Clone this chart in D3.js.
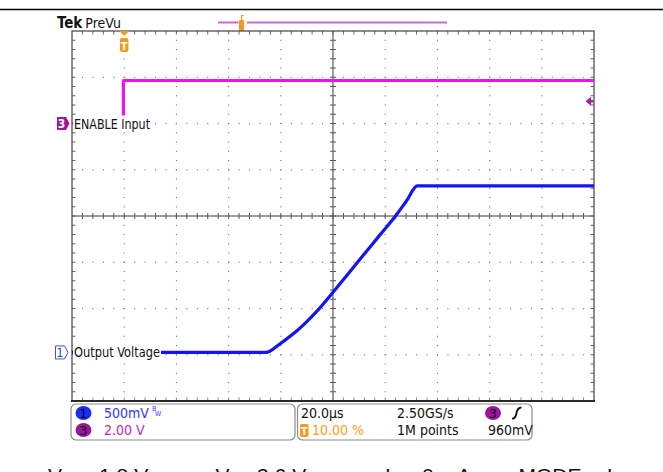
<!DOCTYPE html>
<html><head><meta charset="utf-8">
<script src="https://cdn.jsdelivr.net/npm/d3@7"></script>
<style>
html,body{margin:0;padding:0;background:#fff;}
svg{display:block;}
</style></head><body>
<svg id="c" width="663" height="472"></svg>
<script>
// ---------- data ----------
const timeDomain = [-20, 180];            // µs, 20.0 µs/div, trigger at 10 %
const ch1Time  = [-20, 54.3, 59.3, 64.3, 69.3, 74.3, 80.1, 86.0, 92.0, 98.0, 104.1, 108.2, 112.3, 180];
const ch1Volts = [0, 0, 0.085, 0.19, 0.315, 0.46, 0.653, 0.857, 1.064, 1.271, 1.481, 1.64, 1.80, 1.80];
const ch3Time  = [-20, -0.3, -0.3, 180];
const ch3Volts = [0, 0, 1.86, 1.86];
const ch1Scale = 0.5, ch1Offset = -2.95;  // V/div, divisions
const ch3Scale = 2.0, ch3Offset = 2.0;
const triggerTime = 0, triggerLevel = 0.96;
const ch1Label = "Output Voltage", ch3Label = "ENABLE Input";
const infoRow1 = ["500mV", "20.0µs", "2.50GS/s"];
const infoRow2 = ["2.00 V", "10.00 %", "1M points", "960mV"];
const captionSymbols = [["V","OUT"],["V","IN"],["I","O"],["MODE",""]];
const captionValues = ["= 1.8 V,", "= 3.6 V,", "= 0 mA,", "= Low"];

// ---------- setup ----------
const tekFont = "'Liberation Sans Narrow','Arial Narrow','DejaVu Sans Condensed',sans-serif";
const svg = d3.select('#c');
const W = 663;
const P = {l:72, r:594, t:31, b:401};
const x = d3.scaleLinear().domain(timeDomain).range([P.l, P.r]);
const y = d3.scaleLinear().domain([-4, 4]).range([P.b, P.t]);
const y1 = v => y(v / ch1Scale + ch1Offset);
const y3 = v => y(v / ch3Scale + ch3Offset);

svg.append('rect').attr('width', 663).attr('height', 472).attr('fill', '#fff');

// top rule
svg.append('line').attr('x1', 0).attr('x2', W).attr('y1', 9.5).attr('y2', 9.5)
  .attr('stroke', '#000').attr('stroke-width', 1.6);

// header
const hdr = svg.append('text').attr('x', 57).attr('y', 27.5).attr('font-family', tekFont).attr('fill', '#111');
hdr.append('tspan').attr('font-weight', 'bold').attr('font-size', 15).text('Tek');
hdr.append('tspan').attr('dx', 3).attr('font-size', 14).text('PreVu');

// record view bar
svg.append('line').attr('x1', 218).attr('x2', 447).attr('y1', 22.5).attr('y2', 22.5)
  .attr('stroke', '#c76fd6').attr('stroke-width', 2);
svg.append('rect').attr('x', 236).attr('y', 14).attr('width', 11).attr('height', 17).attr('fill', '#fff');
svg.append('line').attr('x1', 241.5).attr('x2', 241.5).attr('y1', 15).attr('y2', 21).attr('stroke', '#f39a1e').attr('stroke-width', 1.2);
svg.append('line').attr('x1', 241.5).attr('x2', 244).attr('y1', 15.5).attr('y2', 15.5).attr('stroke', '#f39a1e').attr('stroke-width', 1);
svg.append('rect').attr('x', 239).attr('y', 20).attr('width', 5).attr('height', 11).attr('rx', 1).attr('fill', '#f39a1e');
svg.append('line').attr('x1', 235).attr('x2', 238.5).attr('y1', 22.5).attr('y2', 22.5).attr('stroke', '#c76fd6').attr('stroke-width', 2);

// ---------- graticule ----------
const g = svg.append('g');
const minorT = d3.range(0, 51).map(k => timeDomain[0] + k * 4);
const minorD = d3.range(0, 41).map(m => -4 + m * 0.2);
const majorT = d3.range(0, 11).map(k => timeDomain[0] + k * 20);
const majorD = d3.range(-4, 5);

// dotted lines
majorT.filter(t => t !== timeDomain[0] && t !== timeDomain[1] && t !== 80).forEach(t => {
  g.selectAll(null).data(minorD.slice(1, -1)).enter().append('rect')
    .attr('x', x(t) - 0.5).attr('y', d => y(d) - 0.5).attr('width', 1.1).attr('height', 1.1).attr('fill', '#707070');
});
majorD.filter(d => d !== -4 && d !== 4 && d !== 0).forEach(d => {
  g.selectAll(null).data(minorT.slice(1, -1)).enter().append('rect')
    .attr('x', t => x(t) - 0.5).attr('y', y(d) - 0.5).attr('width', 1.1).attr('height', 1.1).attr('fill', '#707070');
});

// center lines
g.append('line').attr('x1', x(80)).attr('x2', x(80)).attr('y1', P.t).attr('y2', P.b).attr('stroke', '#3a3a3a').attr('stroke-width', 1);
g.append('line').attr('x1', P.l).attr('x2', P.r).attr('y1', y(0)).attr('y2', y(0)).attr('stroke', '#3a3a3a').attr('stroke-width', 1);
g.selectAll(null).data(minorT.slice(1, -1)).enter().append('line')
  .attr('x1', t => x(t)).attr('x2', t => x(t)).attr('y1', y(0) - 3).attr('y2', y(0) + 3).attr('stroke', '#555');
g.selectAll(null).data(minorD.slice(1, -1)).enter().append('line')
  .attr('y1', d => y(d)).attr('y2', d => y(d)).attr('x1', x(80) - 3).attr('x2', x(80) + 3).attr('stroke', '#555');

// border ticks
g.selectAll(null).data(minorT.slice(1, -1)).enter().append('line')
  .attr('x1', t => x(t)).attr('x2', t => x(t)).attr('y1', P.t).attr('y2', P.t + 3.5).attr('stroke', '#666');
g.selectAll(null).data(minorT.slice(1, -1)).enter().append('line')
  .attr('x1', t => x(t)).attr('x2', t => x(t)).attr('y1', P.b).attr('y2', P.b - 3.5).attr('stroke', '#888');
g.selectAll(null).data(minorD.slice(1, -1)).enter().append('line')
  .attr('y1', d => y(d)).attr('y2', d => y(d)).attr('x1', P.l).attr('x2', P.l + 3.5).attr('stroke', '#666');
g.selectAll(null).data(minorD.slice(1, -1)).enter().append('line')
  .attr('y1', d => y(d)).attr('y2', d => y(d)).attr('x1', P.r).attr('x2', P.r - 3.5).attr('stroke', '#666');

// border
g.append('rect').attr('x', P.l).attr('y', P.t).attr('width', P.r - P.l).attr('height', P.b - P.t)
  .attr('fill', 'none').attr('stroke', '#505050').attr('stroke-width', 1.3);
g.append('line').attr('x1', P.l - 1).attr('x2', P.r + 1).attr('y1', P.b).attr('y2', P.b).attr('stroke', '#2a2a2a').attr('stroke-width', 2);

// ---------- traces ----------
const ch1 = ch1Time.map((t, i) => ({t, v: ch1Volts[i]}));
const ch3 = ch3Time.map((t, i) => ({t, v: ch3Volts[i]}));
svg.append('path').datum(ch3)
  .attr('d', d3.line().x(d => x(d.t)).y(d => y3(d.v)))
  .attr('fill', 'none').attr('stroke', '#f010f0').attr('stroke-width', 3.2).attr('stroke-linejoin', 'round');
svg.append('path').datum(ch1)
  .attr('d', d3.line().x(d => x(d.t)).y(d => y1(d.v)).curve(d3.curveMonotoneX))
  .attr('fill', 'none').attr('stroke', '#1414f0').attr('stroke-width', 3.2).attr('stroke-linejoin', 'round');

// ---------- channel labels & ground markers ----------
function chanLabel(yy, text, w) {
  svg.append('rect').attr('x', 73).attr('y', yy - 8).attr('width', w + 2).attr('height', 16).attr('fill', '#fff');
  svg.append('text').attr('x', 74).attr('y', yy + 5).attr('font-family', tekFont).attr('font-size', 14.5)
    .attr('fill', '#111').attr('textLength', w).attr('lengthAdjust', 'spacingAndGlyphs').text(text);
}
chanLabel(y3(0), ch3Label, 76);
chanLabel(y1(0), ch1Label, 86);

// ch3 marker
const m3 = y3(0);
svg.append('path').attr('d', `M57,${m3-6.5} h9 l3.5,6.5 l-3.5,6.5 h-9 z`).attr('fill', '#9b189b');
svg.append('text').attr('x', 61.5).attr('y', m3 + 4.5).attr('text-anchor', 'middle').attr('font-family', tekFont)
  .attr('font-size', 12).attr('font-weight', 'bold').attr('fill', '#fff').text('3');
// ch1 marker
const m1 = y1(0);
svg.append('path').attr('d', `M55.5,${m1-6.5} h9 l3.5,6.5 l-3.5,6.5 h-9 z`).attr('fill', '#fff')
  .attr('stroke', '#3b55c8').attr('stroke-width', 1);
svg.append('text').attr('x', 60).attr('y', m1 + 4.5).attr('text-anchor', 'middle').attr('font-family', tekFont)
  .attr('font-size', 12).attr('fill', '#2a3fc0').text('1');

// trigger position marker
const tx = x(triggerTime);
svg.append('path').attr('d', `M${tx-5},${P.t} h10 l-5,5 z`).attr('fill', '#f39a1e');
svg.append('rect').attr('x', tx - 4.2).attr('y', 38).attr('width', 8.4).attr('height', 14).attr('rx', 2).attr('fill', '#f39a1e');
svg.append('text').attr('x', tx).attr('y', 49.5).attr('text-anchor', 'middle').attr('font-family', tekFont)
  .attr('font-size', 11).attr('font-weight', 'bold').attr('fill', '#fff').text('T');

// trigger level marker
const ty = y3(triggerLevel);
svg.append('path').attr('d', `M585.5,${ty} l5.5,-4.5 v3.3 h2.5 v2.4 h-2.5 v3.3 z`).attr('fill', '#a020a8');

// ---------- info bar ----------
const bar = svg.append('g').attr('font-family', tekFont).attr('font-size', 14);
bar.append('rect').attr('x', 71).attr('y', 404).attr('width', 224).attr('height', 36).attr('rx', 5)
  .attr('fill', '#fff').attr('stroke', '#8c8c8c').attr('stroke-width', 1.2);
bar.append('rect').attr('x', 297.5).attr('y', 404).attr('width', 234.5).attr('height', 36).attr('rx', 5)
  .attr('fill', '#fff').attr('stroke', '#8c8c8c').attr('stroke-width', 1.2);

bar.append('ellipse').attr('cx', 83.5).attr('cy', 413).attr('rx', 8).attr('ry', 7).attr('fill', '#1c2cf5');
bar.append('text').attr('x', 83.5).attr('y', 418).attr('text-anchor', 'middle').attr('font-size', 13).attr('fill', '#000').text('1');
bar.append('ellipse').attr('cx', 83.5).attr('cy', 430).attr('rx', 8).attr('ry', 7).attr('fill', '#9b169b');
bar.append('text').attr('x', 83.5).attr('y', 435).attr('text-anchor', 'middle').attr('font-size', 13).attr('fill', '#000').text('3');

bar.append('text').attr('x', 104).attr('y', 418).attr('fill', '#3535ff').text(infoRow1[0]);
bar.append('text').attr('x', 152).attr('y', 411).attr('font-size', 7).attr('fill', '#3535ff').text('B');
bar.append('text').attr('x', 155).attr('y', 416).attr('font-size', 7).attr('fill', '#3535ff').text('W');
bar.append('text').attr('x', 104).attr('y', 435).attr('fill', '#b52ab5').text(infoRow2[0]);

bar.append('text').attr('x', 301).attr('y', 418).attr('fill', '#111').text(infoRow1[1]);
bar.append('text').attr('x', 397).attr('y', 418).attr('fill', '#111').text(infoRow1[2]);
bar.append('ellipse').attr('cx', 493).attr('cy', 413).attr('rx', 8).attr('ry', 7).attr('fill', '#9b169b');
bar.append('text').attr('x', 493).attr('y', 418).attr('text-anchor', 'middle').attr('font-size', 13).attr('fill', '#000').text('3');
bar.append('path').attr('d', 'M512,418.5 Q515.5,419 516.5,413 Q517.5,407.5 521.5,407.5')
  .attr('fill', 'none').attr('stroke', '#111').attr('stroke-width', 1.8);

bar.append('rect').attr('x', 300).attr('y', 424).attr('width', 8.5).attr('height', 13).attr('rx', 2).attr('fill', '#f39a1e');
bar.append('text').attr('x', 304.25).attr('y', 434.5).attr('text-anchor', 'middle').attr('font-size', 10.5)
  .attr('font-weight', 'bold').attr('fill', '#fff').text('T');
bar.append('text').attr('x', 312).attr('y', 435).attr('fill', '#f7a020').text(infoRow2[1]);
bar.append('text').attr('x', 397).attr('y', 435).attr('fill', '#111').text(infoRow2[2]);
bar.append('text').attr('x', 488).attr('y', 435).attr('fill', '#111').text(infoRow2[3]);

// ---------- caption (cut off at the bottom edge, as in the source) ----------
const capSymX = [48, 215.5, 385, 518.5];
const capValX = [81, 239, 404, 589];
const capY = 482.5;
const cap = svg.append('g').attr('font-family', "'Liberation Sans',Arial,sans-serif").attr('font-size', 21).attr('fill', '#111');
captionSymbols.forEach((s, i) => {
  const t = cap.append('text').attr('x', capSymX[i]).attr('y', capY);
  t.append('tspan').text(s[0]);
  if (s[1]) t.append('tspan').attr('font-size', 10).attr('dy', 4).text(s[1]);
  t.append('tspan').attr('x', capValX[i]).attr('y', capY).text(captionValues[i]);
});
</script>
</body></html>
